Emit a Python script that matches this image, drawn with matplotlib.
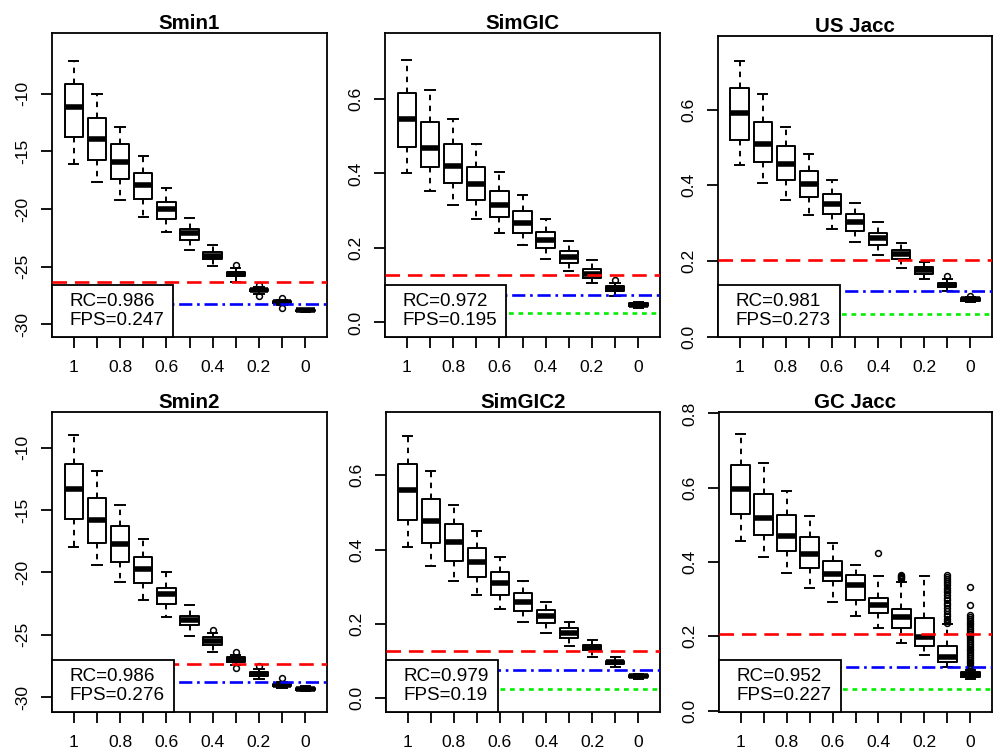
import matplotlib
matplotlib.use('Agg')
import matplotlib.pyplot as plt
from matplotlib.lines import Line2D

plt.rcParams['font.family'] = ['Liberation Sans', 'DejaVu Sans']
plt.rcParams['axes.unicode_minus'] = False

# x axis: 11 boxes, R drops every other label
x_pos = list(range(1, 12))
x_labels = ['1', '', '0.8', '', '0.6', '', '0.4', '', '0.2', '', '0']

# ---- Smin1
smin1_hi = [-7.2, -10.0, -12.9, -15.4, -18.2, -20.8, -23.1, -25.1, -26.75, -27.85, -28.65]
smin1_q3 = [-9.2, -12.1, -14.4, -16.9, -19.4, -21.7, -23.75, -25.45, -26.9, -27.95, -28.72]
smin1_med = [-11.2, -13.9, -15.9, -17.9, -20.0, -22.1, -24.05, -25.62, -27.02, -28.05, -28.8]
smin1_q1 = [-13.8, -15.75, -17.4, -19.1, -20.9, -22.65, -24.35, -25.8, -27.15, -28.15, -28.88]
smin1_lo = [-16.1, -17.7, -19.2, -20.7, -22.0, -23.6, -24.95, -26.3, -27.4, -28.35, -28.95]
smin1_out = [[], [], [], [], [], [], [], [-24.9], [-26.6, -27.55], [-27.7, -28.55], []]
smin1_ref = [-26.35, -28.25, None]
smin1_leg = ['RC=0.986', 'FPS=0.247']

# ---- SimGIC
simgic_hi = [0.704, 0.623, 0.546, 0.478, 0.405, 0.341, 0.278, 0.220, 0.168, 0.107, 0.056]
simgic_q3 = [0.616, 0.537, 0.479, 0.418, 0.354, 0.298, 0.244, 0.193, 0.143, 0.097, 0.052]
simgic_med = [0.546, 0.468, 0.420, 0.371, 0.316, 0.268, 0.222, 0.177, 0.131, 0.090, 0.047]
simgic_q1 = [0.471, 0.418, 0.375, 0.330, 0.284, 0.241, 0.200, 0.159, 0.119, 0.085, 0.043]
simgic_lo = [0.400, 0.353, 0.316, 0.277, 0.241, 0.207, 0.170, 0.137, 0.106, 0.072, 0.039]
simgic_out = [[], [], [], [], [], [], [], [], [], [0.113], []]
simgic_ref = [0.127, 0.073, 0.025]
simgic_leg = ['RC=0.972', 'FPS=0.195']

# ---- US Jacc
usj_hi = [0.727, 0.641, 0.555, 0.483, 0.415, 0.354, 0.303, 0.248, 0.198, 0.154, 0.106]
usj_q3 = [0.656, 0.568, 0.503, 0.439, 0.378, 0.324, 0.275, 0.230, 0.185, 0.143, 0.103]
usj_med = [0.592, 0.510, 0.456, 0.404, 0.352, 0.303, 0.260, 0.218, 0.176, 0.138, 0.099]
usj_q1 = [0.520, 0.461, 0.415, 0.369, 0.324, 0.279, 0.242, 0.207, 0.167, 0.132, 0.096]
usj_lo = [0.455, 0.406, 0.362, 0.322, 0.286, 0.251, 0.216, 0.182, 0.154, 0.121, 0.093]
usj_out = [[], [], [], [], [], [], [], [], [], [0.160], [0.109]]
usj_ref = [0.204, 0.121, 0.060]
usj_leg = ['RC=0.981', 'FPS=0.273']

# ---- Smin2
smin2_hi = [-9.0, -11.9, -14.6, -17.3, -20.0, -22.6, -24.9, -26.6, -27.75, -28.8, -29.15]
smin2_q3 = [-11.3, -14.05, -16.3, -18.75, -21.25, -23.5, -25.2, -26.8, -28.0, -28.93, -29.25]
smin2_med = [-13.3, -15.8, -17.75, -19.75, -21.75, -23.85, -25.5, -27.0, -28.13, -29.02, -29.33]
smin2_q1 = [-15.75, -17.65, -19.2, -20.85, -22.55, -24.2, -25.8, -27.2, -28.3, -29.12, -29.41]
smin2_lo = [-18.0, -19.4, -20.8, -22.25, -23.55, -25.1, -26.35, -27.45, -28.55, -29.25, -29.5]
smin2_out = [[], [], [], [], [], [], [-24.6], [-26.4, -27.65], [-27.55], [-28.5], []]
smin2_ref = [-27.33, -28.82, None]
smin2_leg = ['RC=0.986', 'FPS=0.276']

# ---- SimGIC2
simgic2_hi = [0.706, 0.610, 0.520, 0.451, 0.381, 0.316, 0.260, 0.204, 0.157, 0.110, 0.065]
simgic2_q3 = [0.630, 0.536, 0.468, 0.403, 0.340, 0.284, 0.238, 0.188, 0.143, 0.101, 0.063]
simgic2_med = [0.561, 0.477, 0.421, 0.366, 0.309, 0.260, 0.222, 0.175, 0.136, 0.097, 0.060]
simgic2_q1 = [0.480, 0.417, 0.370, 0.327, 0.279, 0.234, 0.202, 0.161, 0.130, 0.092, 0.056]
simgic2_lo = [0.406, 0.356, 0.315, 0.277, 0.240, 0.204, 0.175, 0.141, 0.112, 0.083, 0.051]
simgic2_out = [[], [], [], [], [], [], [], [], [], [], []]
simgic2_ref = [0.128, 0.076, 0.025]
simgic2_leg = ['RC=0.979', 'FPS=0.19']

# ---- GC Jacc
gcj_hi = [0.745, 0.667, 0.592, 0.524, 0.452, 0.391, 0.361, 0.347, 0.361, 0.233, 0.110]
gcj_q3 = [0.662, 0.583, 0.527, 0.466, 0.404, 0.366, 0.302, 0.273, 0.248, 0.174, 0.104]
gcj_med = [0.596, 0.518, 0.470, 0.422, 0.368, 0.337, 0.283, 0.251, 0.199, 0.145, 0.097]
gcj_q1 = [0.528, 0.472, 0.429, 0.385, 0.349, 0.299, 0.262, 0.222, 0.174, 0.132, 0.090]
gcj_lo = [0.457, 0.414, 0.371, 0.330, 0.292, 0.255, 0.222, 0.181, 0.150, 0.118, 0.086]
gcj_out10 = [0.365, 0.360, 0.355, 0.350, 0.344, 0.338, 0.331, 0.325, 0.318, 0.311, 0.304,
             0.297, 0.290, 0.283, 0.276, 0.268, 0.261, 0.254, 0.247, 0.241, 0.236]
gcj_out11 = [0.333, 0.285, 0.257, 0.252, 0.247, 0.242, 0.237, 0.232, 0.227, 0.222, 0.217,
             0.212, 0.207, 0.202, 0.197, 0.192, 0.187, 0.182, 0.177, 0.172, 0.167, 0.162,
             0.157, 0.152, 0.147, 0.142, 0.137, 0.132, 0.127, 0.122, 0.118, 0.115, 0.113]
gcj_out = [[], [], [], [], [], [], [0.425], [0.365, 0.362, 0.359, 0.356, 0.353], [],
           gcj_out10, gcj_out11]
gcj_ref = [0.206, 0.118, 0.057]
gcj_leg = ['RC=0.952', 'FPS=0.227']


def draw_panel(ax, title, lo, q1, med, q3, hi, out, ref, leg, ylim, yticks):
    stats = []
    for i in range(len(med)):
        stats.append({'whislo': lo[i], 'q1': q1[i], 'med': med[i], 'q3': q3[i],
                      'whishi': hi[i], 'fliers': out[i]})
    ax.bxp(stats, positions=x_pos, widths=0.8, capwidths=0.4, showfliers=True,
           boxprops=dict(color='black', linewidth=1.4),
           medianprops=dict(color='black', linewidth=4, solid_capstyle='butt'),
           whiskerprops=dict(color='black', linewidth=1.4, linestyle=(0, (2.8, 2.8))),
           capprops=dict(color='black', linewidth=1.4),
           flierprops=dict(marker='o', markerfacecolor='none', markeredgecolor='black',
                           markersize=4.2, markeredgewidth=1.1))
    styles = [('red', (0, (5.5, 3))),
              ('blue', (0, (5, 1.8, 1, 1.8))),
              ('#00ee00', (0, (1.8, 1.8)))]
    for val, (col, ls) in zip(ref, styles):
        if val is not None:
            ax.axhline(val, color=col, linestyle=ls, linewidth=1.9, zorder=3)
    handles = [Line2D([], [], linestyle='none') for _ in leg]
    lg = ax.legend(handles, leg, loc='lower left', borderaxespad=0, fontsize=13.6,
                   handlelength=0.5, handletextpad=0, borderpad=0.45, labelspacing=0.05,
                   fancybox=False, framealpha=1, edgecolor='black')
    lg.get_frame().set_linewidth(1.3)
    ax.set_xlim(0.06, 11.94)
    ax.set_ylim(*ylim)
    ax.set_xticks(x_pos)
    ax.set_xticklabels(x_labels)
    ax.set_yticks(yticks)
    ax.tick_params(direction='out', length=8, width=1.3, labelsize=12.6)
    ax.tick_params(axis='x', pad=8.5)
    ax.tick_params(axis='y', pad=7.5, labelrotation=90)
    for lbl in ax.get_yticklabels():
        lbl.set_va('center')
    for sp in ax.spines.values():
        sp.set_linewidth(1.3)
    ax.set_title(title, fontweight='bold', fontsize=14.8, pad=1)


fig = plt.figure(figsize=(10, 7.53), dpi=100)
W, H = 1000.0, 753.0


def add_ax(left, top, right, bottom):
    return fig.add_axes([left / W, 1 - bottom / H, (right - left) / W, (bottom - top) / H])


ax1 = add_ax(52, 33, 327, 337)
draw_panel(ax1, 'Smin1', smin1_lo, smin1_q1, smin1_med, smin1_q3, smin1_hi, smin1_out,
           smin1_ref, smin1_leg, (-31.1, -4.75), [-30, -25, -20, -15, -10])

ax2 = add_ax(385, 33, 660, 337)
draw_panel(ax2, 'SimGIC', simgic_lo, simgic_q1, simgic_med, simgic_q3, simgic_hi, simgic_out,
           simgic_ref, simgic_leg, (-0.039, 0.777), [0.0, 0.2, 0.4, 0.6])

ax3 = add_ax(718, 36, 992, 337)
draw_panel(ax3, 'US Jacc', usj_lo, usj_q1, usj_med, usj_q3, usj_hi, usj_out,
           usj_ref, usj_leg, (0.0, 0.794), [0.0, 0.2, 0.4, 0.6])

ax4 = add_ax(52, 412, 327, 712)
draw_panel(ax4, 'Smin2', smin2_lo, smin2_q1, smin2_med, smin2_q3, smin2_hi, smin2_out,
           smin2_ref, smin2_leg, (-31.2, -7.15), [-30, -25, -20, -15, -10])

ax5 = add_ax(386, 412, 660, 712)
draw_panel(ax5, 'SimGIC2', simgic2_lo, simgic2_q1, simgic2_med, simgic2_q3, simgic2_hi,
           simgic2_out, simgic2_ref, simgic2_leg, (-0.037, 0.770), [0.0, 0.2, 0.4, 0.6])

ax6 = add_ax(719, 412, 992, 712)
draw_panel(ax6, 'GC Jacc', gcj_lo, gcj_q1, gcj_med, gcj_q3, gcj_hi, gcj_out,
           gcj_ref, gcj_leg, (-0.004, 0.804), [0.0, 0.2, 0.4, 0.6, 0.8])

fig.savefig('out.png', dpi=100, facecolor='white')
